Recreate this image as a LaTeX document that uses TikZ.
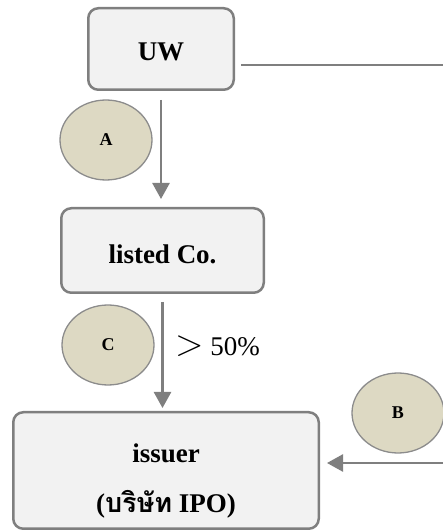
\documentclass[tikz,border=0pt]{standalone}
\usepackage{fontspec}
\setmainfont{Liberation Serif}
\newfontfamily\thaifont[Script=Thai]{Loma}
\usetikzlibrary{positioning, shapes.geometric, arrows.meta}
\definecolor{linegray}{HTML}{7F7F7F}
\definecolor{boxfill}{HTML}{F2F2F2}
\definecolor{dotfill}{HTML}{DDD9C3}
\definecolor{dotline}{HTML}{8C8C8C}

\begin{document}
\begin{tikzpicture}[x=1pt, y=1pt, node distance=116pt,
    box/.style={draw=linegray, line width=2.5pt, fill=boxfill, rounded corners=10pt,
      align=center, inner sep=0pt, font=\bfseries\fontsize{27}{50}\selectfont},
    tag/.style={ellipse, draw=dotline, line width=1.3pt, fill=dotfill, minimum width=92pt,
      minimum height=80pt, inner sep=0pt, font=\bfseries\fontsize{18}{18}\selectfont},
    link/.style={draw=linegray, line width=2.5pt},
    arr/.style={link, -{Triangle[width=17pt, length=16pt]}}]
  \useasboundingbox (0,0) rectangle (443,531);

  % companies
  \node[box, minimum width=145.5pt, minimum height=81.5pt, text height=23pt] (n1) at (161,482) {UW};
  \node[box, minimum width=202.5pt, minimum height=84.5pt, text height=26pt] (n2) [below=116pt of n1, xshift=1.5pt] {listed Co.};
  \node[box, minimum width=305.5pt, minimum height=116.5pt, text height=90pt] (n3) [below=117pt of n2, xshift=3.5pt] {issuer\\({\thaifont บริษัท} IPO)};

  % steps
  \node[tag] (a) at (106,391) {A};
  \node[tag] (b) at (398,118) {B};
  \node[tag] (c) at (108,186) {C};

  \coordinate (e1) at (443,466);
  \coordinate (e2) at (443,68);

  \draw[link, shorten <=6pt] (n1.east |- e1) -- (e1);
  \draw[arr, shorten <=9pt, shorten >=8pt] (n1.south) -- (n1.south |- n2.north);
  \draw[arr, shorten <=8pt, shorten >=3pt] (n2.south) -- (n2.south |- n3.north)
    node[right=8pt, pos=0.45, font=\fontsize{27}{27}\selectfont] {\scalebox{1.5}{$>$} 50\%};
  \draw[arr, shorten >=7pt] (e2) -- (n3.east |- e2);
\end{tikzpicture}
\end{document}
